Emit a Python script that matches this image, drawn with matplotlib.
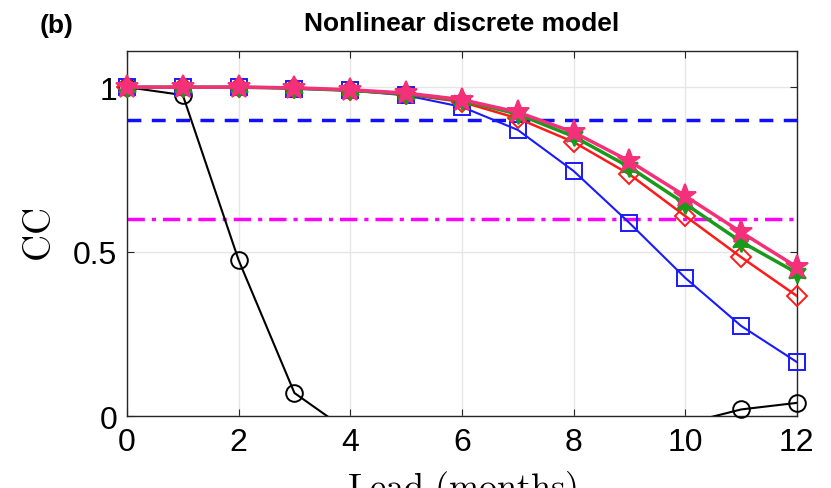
#!/usr/bin/env python3

import matplotlib
matplotlib.use("Agg")
import matplotlib.pyplot as plt
import numpy as np

plt.rcParams["mathtext.fontset"] = "cm"
plt.rcParams["font.family"] = ["Liberation Sans", "DejaVu Sans"]

lead = np.arange(13)

cc_black = [1.0, 0.976, 0.474, 0.07, -0.05, -0.12, -0.16, -0.17, -0.14, -0.08, -0.023, 0.02, 0.04]
cc_blue = [1.0, 1.0, 1.0, 0.995, 0.99, 0.975, 0.94, 0.87, 0.745, 0.587, 0.42, 0.274, 0.164]
cc_red = [1.0, 1.0, 1.0, 0.997, 0.99, 0.978, 0.955, 0.905, 0.833, 0.735, 0.608, 0.483, 0.365]
cc_green = [1.0, 1.0, 1.0, 0.997, 0.99, 0.98, 0.96, 0.918, 0.85, 0.757, 0.645, 0.53, 0.435]
cc_pink = [1.0, 1.0, 1.0, 0.998, 0.992, 0.982, 0.962, 0.924, 0.863, 0.775, 0.669, 0.559, 0.453]

thresh_blue = 0.9
thresh_magenta = 0.6

xticks = [0, 2, 4, 6, 8, 10, 12]
yticks = [0, 0.5, 1]
ytick_labels = ["0", "0.5", "1"]


def draw_series(ax, y, color, lw, marker, ms, filled, z):
    y = np.asarray(y)
    # line is clipped by the axes, markers are not (as in MATLAB)
    ax.plot(lead, y, color=color, lw=lw, zorder=z)
    inside = y >= 0
    ax.plot(lead[inside], y[inside], ls="none", marker=marker, ms=ms,
            mfc=color if filled else "none", mec=color, mew=1.4,
            clip_on=False, zorder=z)


def main():
    fig = plt.figure(figsize=(8.31, 4.89), dpi=100)
    ax = fig.add_axes([0.1528, 0.1472, 0.8062, 0.7465])

    ax.axhline(thresh_blue, color="#1010ff", ls=(0, (4, 3)), lw=2.5, zorder=2)
    ax.axhline(thresh_magenta, color="#ff00ff", ls=(0, (5, 2, 1.2, 2)), lw=2.5, zorder=2)

    draw_series(ax, cc_black, "black", 1.5, "o", 12, False, 3)
    draw_series(ax, cc_blue, "#1a1aff", 1.5, "s", 12, False, 3)
    draw_series(ax, cc_red, "#ff1a1a", 1.8, "D", 10, False, 4)
    draw_series(ax, cc_green, "#1a9a1a", 2.5, (6, 1, 0), 14, True, 5)
    draw_series(ax, cc_pink, "#f5307a", 2.5, "*", 17, True, 6)

    ax.set_xlim(0, 12)
    ax.set_ylim(0, 1.11)
    ax.set_xticks(xticks)
    ax.set_yticks(yticks)
    ax.set_yticklabels(ytick_labels)
    ax.tick_params(direction="in", labelsize=23, length=5, top=True, right=True,
                   color="#262626")
    ax.tick_params(axis="x", pad=8)
    ax.tick_params(axis="y", pad=7)
    ax.grid(True, color="#e6e6e6", lw=1)
    ax.set_axisbelow(True)
    for s in ax.spines.values():
        s.set_color("#262626")
        s.set_linewidth(1)

    ax.set_ylabel(r"$\mathrm{CC}$", fontsize=27, labelpad=10)
    ax.set_xlabel(r"$\mathrm{Lead\ (months)}$", fontsize=26, labelpad=8)
    ax.set_title("Nonlinear discrete model", fontsize=19, fontweight="bold", pad=15)
    fig.text(0.048, 0.932, "(b)", fontsize=19, fontweight="bold")

    fig.savefig("out.png", dpi=100)


if __name__ == "__main__":
    main()
